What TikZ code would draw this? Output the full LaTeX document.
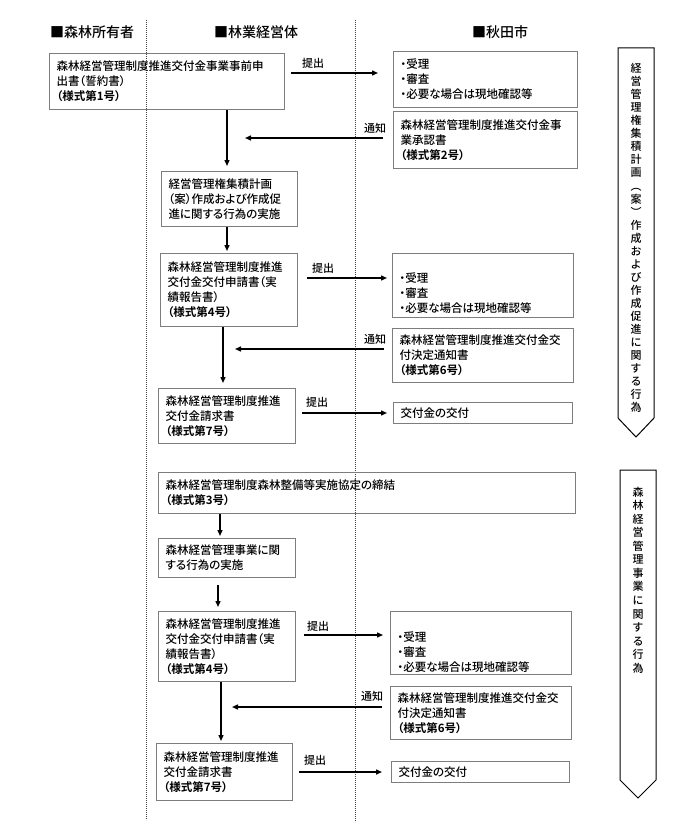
\documentclass[tikz,border=0pt]{standalone}
\usepackage{fontspec}
\setmainfont{Noto Sans CJK JP}[UprightFont=* Medium, BoldFont=* Bold, RawFeature=+palt]
\usetikzlibrary{arrows.meta}
\definecolor{boxgray}{RGB}{125,125,125}
\tikzset{
  box/.style={draw=boxgray, line width=1.1pt, anchor=north west, align=left,
    inner xsep=7pt, inner ysep=0pt, font=\fontsize{11.5}{15}\selectfont},
  arr/.style={line width=1.4pt, -{Triangle[length=6pt,width=5pt]}},
  lbl/.style={font=\fontsize{11}{13}\selectfont, inner sep=0pt},
  hdr/.style={font=\fontsize{14}{16}\selectfont, inner sep=0pt},
  dotline/.style={line width=0.6pt, dash pattern=on 0.8pt off 1.2pt, black!75},
  chev/.style={draw=black, line width=1pt},
  vtext/.style={align=center, inner sep=0pt},
}
\newcommand{\yoshiki}[1]{\textbf{（様式第#1号）}}
\begin{document}
\begin{tikzpicture}[x=1pt,y=-1pt]
\useasboundingbox (0,0) rectangle (690,832);
\fill[white] (0,0) rectangle (690,832);

% headers
\node[hdr] (h1) at (92,32) {■森林所有者};
\node[hdr] (h2) at (256,32) {■林業経営体};
\node[hdr] (h3) at (500,32) {■秋田市};

% dotted column separators
\coordinate (d1t) at (146,20);
\coordinate (d1b) at (146,820);
\coordinate (d2t) at (355,20);
\coordinate (d2b) at (355,822);
\draw[dotline] (d1t) -- (d1b);
\draw[dotline] (d2t) -- (d2b);

% boxes
\node[box, minimum width=235pt, minimum height=56pt, text width=221pt] (A) at (49,53)
  {森林経営管理制度推進交付金事業事前申\\出書（誓約書）\\\yoshiki{1}};
\node[box, minimum width=184pt, minimum height=56pt, text width=170pt] (B) at (393,51)
  {・受理\\・審査\\・必要な場合は現地確認等};
\node[box, minimum width=184pt, minimum height=57pt, text width=170pt] (C) at (393,111)
  {森林経営管理制度推進交付金事\\業承認書\\\yoshiki{2}};
\node[box, minimum width=136pt, minimum height=55pt, text width=122pt] (D) at (161,171)
  {経営管理権集積計画\\（案）作成および作成促\\進に関する行為の実施};
\node[box, minimum width=137pt, minimum height=73pt, text width=123pt] (E) at (160,253)
  {森林経営管理制度推進\\交付金交付申請書（実\\績報告書）\\\yoshiki{4}};
\node[box, minimum width=181pt, minimum height=64pt, text width=167pt, text depth=15pt] (F) at (392,253)
  {・受理\\・審査\\・必要な場合は現地確認等};
\node[box, minimum width=181pt, minimum height=54pt, text width=167pt] (G) at (392,328)
  {森林経営管理制度推進交付金交\\付決定通知書\\\yoshiki{6}};
\node[box, minimum width=137pt, minimum height=55pt, text width=123pt] (H) at (158,388)
  {森林経営管理制度推進\\交付金請求書\\\yoshiki{7}};
\node[box, minimum width=179pt, minimum height=21pt, text width=165pt] (I) at (393,402)
  {交付金の交付};
\node[box, minimum width=417pt, minimum height=41pt, text width=403pt] (J) at (158,472)
  {森林経営管理制度森林整備等実施協定の締結\\\yoshiki{3}};
\node[box, minimum width=137pt, minimum height=39pt, text width=123pt] (K) at (158,538)
  {森林経営管理事業に関\\する行為の実施};
\node[box, minimum width=137pt, minimum height=70pt, text width=123pt] (L) at (158,611)
  {森林経営管理制度推進\\交付金交付申請書（実\\績報告書）\\\yoshiki{4}};
\node[box, minimum width=181pt, minimum height=63pt, text width=167pt, text depth=13pt] (M) at (390,611)
  {・受理\\・審査\\・必要な場合は現地確認等};
\node[box, minimum width=181pt, minimum height=53pt, text width=167pt] (N) at (390,686)
  {森林経営管理制度推進交付金交\\付決定通知書\\\yoshiki{6}};
\node[box, minimum width=136pt, minimum height=57pt, text width=122pt] (O) at (156,743)
  {森林経営管理制度推進\\交付金請求書\\\yoshiki{7}};
\node[box, minimum width=178pt, minimum height=21pt, text width=164pt] (P) at (391,761)
  {交付金の交付};

% helper coordinates
\coordinate (yAB) at (0,73);
\coordinate (yEF) at (0,278);
\coordinate (yHI) at (0,413);
\coordinate (yLM) at (0,635);
\coordinate (yOP) at (0,772);
\coordinate (yC) at (0,138);
\coordinate (yG) at (0,349);
\coordinate (yN) at (0,707);
\coordinate (n1) at (245,138);
\coordinate (n2) at (235,349);
\coordinate (n3) at (232,707);
\coordinate (xAD) at (227,0);
\coordinate (xEH) at (223,0);
\coordinate (xJK) at (220,0);
\coordinate (xKL) at (218,0);
\coordinate (xLO) at (221,0);

% horizontal submit arrows
\draw[arr, shorten <=6pt, shorten >=15pt] (A.east |- yAB) -- (B.west |- yAB);
\draw[arr, shorten <=9pt, shorten >=5pt] (E.east |- yEF) -- (F.west |- yEF);
\draw[arr, shorten <=6pt, shorten >=6pt] (H.east |- yHI) -- (I.west |- yHI);
\draw[arr, shorten <=8pt, shorten >=7pt] (L.east |- yLM) -- (M.west |- yLM);
\draw[arr, shorten <=6pt, shorten >=9pt] (O.east |- yOP) -- (P.west |- yOP);

% notification arrows
\draw[arr, shorten <=10pt] (C.west |- yC) -- (n1);
\draw[arr, shorten <=8pt] (G.west |- yG) -- (n2);
\draw[arr, shorten <=8pt] (N.west |- yN) -- (n3);

% vertical arrows
\draw[arr, shorten >=5pt] (A.south -| xAD) -- (D.north -| xAD);
\draw[arr, shorten >=2pt] (D.south -| xAD) -- (E.north -| xAD);
\draw[arr, shorten >=5pt] (E.south -| xEH) -- (H.north -| xEH);
\draw[arr, shorten >=2pt] (J.south -| xJK) -- (K.north -| xJK);
\draw[arr, shorten <=7pt, shorten >=4pt] (K.south -| xKL) -- (L.north -| xKL);
\draw[arr, shorten >=2pt] (L.south -| xLO) -- (O.north -| xLO);

% labels
\node[lbl] (t1) at (313,63) {提出};
\node[lbl] (t2) at (375,128) {通知};
\node[lbl] (t3) at (323,268) {提出};
\node[lbl] (t4) at (375,339) {通知};
\node[lbl] (t5) at (317,402) {提出};
\node[lbl] (t6) at (318,626) {提出};
\node[lbl] (t7) at (372,696) {通知};
\node[lbl] (t8) at (315,760) {提出};

% chevrons
\draw[chev] (618,48) -- (654,48) -- (654,418) -- (636,437) -- (618,418) -- cycle;
\node[vtext, font=\fontsize{11}{13.04}\selectfont] (V1) at (636,238)
  {経\\営\\管\\理\\権\\集\\積\\計\\画\\︵\\案\\︶\\作\\成\\お\\よ\\び\\作\\成\\促\\進\\に\\関\\す\\る\\行\\為};
\draw[chev] (620,470) -- (656,470) -- (656,780) -- (638,798) -- (620,780) -- cycle;
\node[vtext, font=\fontsize{11}{13.54}\selectfont] (V2) at (638,580)
  {森\\林\\経\\営\\管\\理\\事\\業\\に\\関\\す\\る\\行\\為};
\end{tikzpicture}
\end{document}
